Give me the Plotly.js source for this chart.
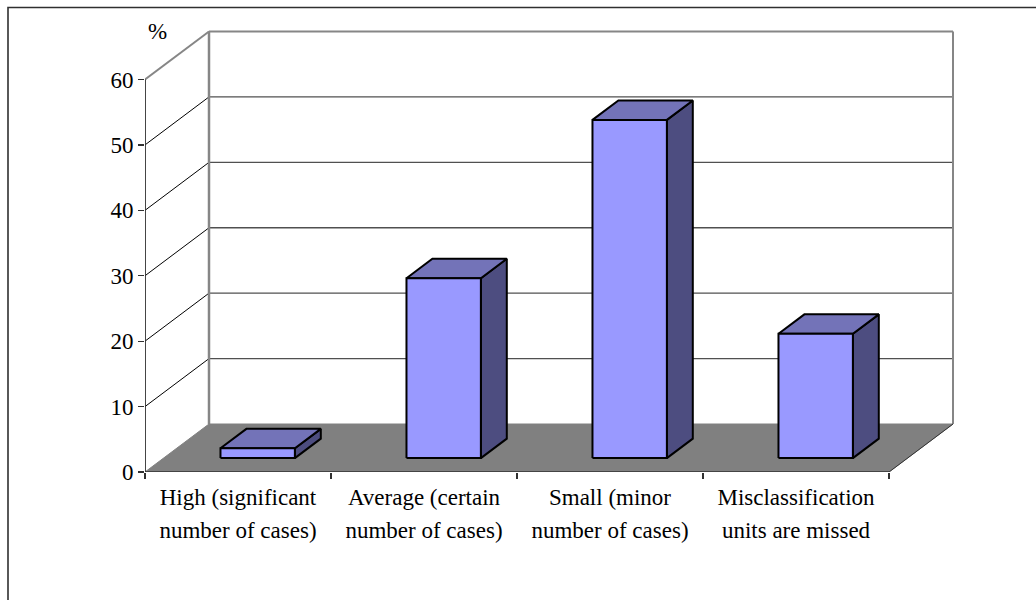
<!DOCTYPE html>
<html>
<head>
<meta charset="utf-8">
<script src="https://cdn.plot.ly/plotly-3.0.1.min.js"></script>
<style>html,body{margin:0;padding:0;background:#fff}#chart{width:1036px;height:600px}</style>
</head>
<body>
<div id="chart"></div>
<script>
// Share of cases by misclassification level, in percent
const categoryLines = [
  ["High (significant", "number of cases)"],
  ["Average (certain", "number of cases)"],
  ["Small (minor", "number of cases)"],
  ["Misclassification", "units are missed"]
];
const shares = [1.5, 27.5, 51.7, 19];
const percentTicks = [0, 10, 20, 30, 40, 50, 60];

// Oblique projection: floor depth expressed in axis units
const pxPerCat = 186, pxPerPct = 392.5 / 60;
const depthX = 64 / pxPerCat, depthY = 48 / pxPerPct;
const cats = shares.length;
const project = (x, y, d) => [x + d * depthX, y + d * depthY];

const barStart = 0.306, barWidth = 0.4, barFront = 0.29, barBack = 0.695;

const faceTrace = (pts, fill, lineColor, lineWidth) => ({
  type: "scatter", mode: "lines", x: pts.map(p => p[0]), y: pts.map(p => p[1]),
  fill: fill ? "toself" : "none", fillcolor: fill || undefined,
  line: {color: lineColor, width: lineWidth}, hoverinfo: "skip", showlegend: false, cliponaxis: false
});

const traces = [];
const wallGray = "#868686";

// Gridlines on the side wall and the back wall
percentTicks.slice(1).forEach(v => {
  const top = v === 60;
  traces.push(faceTrace([project(0, v, 0), project(0, v, 1)], null, top ? wallGray : "#000000", top ? 2 : 1));
  traces.push(faceTrace([project(0, v, 1), project(cats, v, 1)], null, top ? wallGray : "#505050", top ? 2 : 1.4));
});
// Wall verticals
traces.push(faceTrace([project(0, 0, 1), project(0, 60, 1)], null, wallGray, 2.5));
traces.push(faceTrace([project(cats, 0, 1), project(cats, 60, 1)], null, wallGray, 2));
// Floor
traces.push(faceTrace([project(0, 0, 0), project(cats, 0, 0), project(cats, 0, 1), project(0, 0, 1), project(0, 0, 0)], "#808080", "#808080", 1));
traces.push(faceTrace([project(cats, 0, 0), project(cats, 0, 1)], null, "#303030", 1));

// Bars: side, top and front faces
shares.forEach((v, i) => {
  const l = i + barStart, r = l + barWidth;
  traces.push(faceTrace([project(r, 0, barFront), project(r, 0, barBack), project(r, v, barBack), project(r, v, barFront), project(r, 0, barFront)], "#4d4d80", "#000000", 2));
  traces.push(faceTrace([project(l, v, barFront), project(r, v, barFront), project(r, v, barBack), project(l, v, barBack), project(l, v, barFront)], "#7373b8", "#000000", 2));
  traces.push(faceTrace([project(l, 0, barFront), project(r, 0, barFront), project(r, v, barFront), project(l, v, barFront), project(l, 0, barFront)], "#9999ff", "#000000", 2));
});

// Front axis lines
traces.push(faceTrace([[0, 0], [0, 60]], null, "#303030", 1.8));
traces.push(faceTrace([[0, 0], [cats, 0]], null, "#303030", 1.6));

const font = "'Liberation Serif', 'Times New Roman', serif";
const textSize = 23;

// Plot area in page pixels, used to place the outer frame
const plotLeft = 145, plotTop = 27, plotW = 812, plotH = 445;
const paperX = px => (px - plotLeft) / plotW;
const paperY = py => (plotTop + plotH - py) / plotH;

const layout = {
  width: 1036, height: 600, autosize: false,
  margin: {l: plotLeft, r: 1036 - plotLeft - plotW, t: plotTop, b: 600 - plotTop - plotH, pad: 0},
  paper_bgcolor: "#ffffff", plot_bgcolor: "#ffffff",
  showlegend: false,
  font: {family: font, color: "#000000"},
  xaxis: {
    range: [0, plotW / pxPerCat], showgrid: false, zeroline: false, showline: false,
    tickmode: "array",
    tickvals: categoryLines.map((_, i) => i + 0.5),
    ticktext: categoryLines.map(l => l.map(t => `<span style="font-size:${textSize}px">${t}</span>`).join("<br>")),
    ticks: "", tickangle: 0, tickfont: {family: font, size: 25, color: "#000000"}, ticklabelstandoff: 7,
    minor: {tickmode: "array", tickvals: [0, 1, 2, 3, 4], ticks: "outside", ticklen: 6, tickwidth: 1.2, tickcolor: "#303030", showgrid: false}
  },
  yaxis: {
    range: [0, plotH / pxPerPct], showgrid: false, zeroline: false, showline: false,
    tickmode: "array", tickvals: percentTicks, ticktext: percentTicks.map(String),
    ticks: "outside", ticklen: 6, tickwidth: 1.2, tickcolor: "#303030",
    tickfont: {family: font, size: textSize, color: "#000000"}
  },
  annotations: [{
    text: "%", xref: "x", yref: "y", x: 12.5 / pxPerCat, y: 60 + depthY, showarrow: false,
    font: {family: font, size: textSize, color: "#000000"}
  }],
  shapes: [{
    type: "path", xref: "paper", yref: "paper", layer: "above",
    path: `M ${paperX(8)} ${paperY(600)} L ${paperX(8)} ${paperY(7.5)} L ${paperX(1036)} ${paperY(7.5)}`,
    line: {color: "#303030", width: 1.6}
  }]
};

Plotly.newPlot("chart", traces, layout, {displayModeBar: false, staticPlot: true});
</script>
</body>
</html>
